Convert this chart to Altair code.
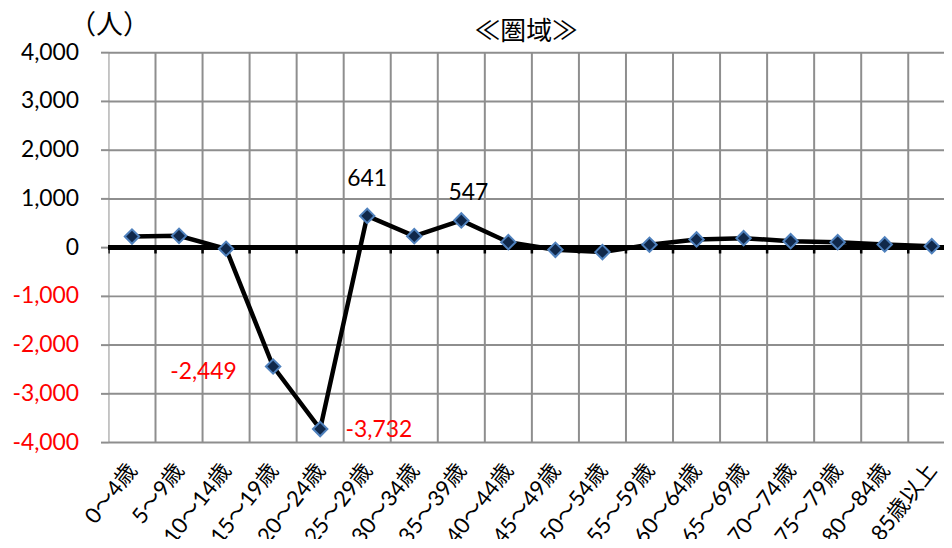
import altair as alt
import pandas as pd

categories = ["0～4歳", "5～9歳", "10～14歳", "15～19歳", "20～24歳", "25～29歳",
              "30～34歳", "35～39歳", "40～44歳", "45～49歳", "50～54歳", "55～59歳",
              "60～64歳", "65～69歳", "70～74歳", "75～79歳", "80～84歳", "85歳以上"]
values = [218, 232, -33, -2449, -3732, 641, 225, 547, 102, -54, -102, 49,
          157, 184, 122, 102, 55, 20]
y_ticks = [-4000, -3000, -2000, -1000, 0, 1000, 2000, 3000, 4000]
unit_label = "（人）"
chart_title = "≪圏域≫"

df = pd.DataFrame({
    "idx": list(range(len(categories))),
    "category": categories,
    "value": values,
    "label": [f"{v:,}" for v in values],
})
bounds = pd.DataFrame({"b": [i - 0.5 for i in range(len(categories) + 1)]})

FONT = "Lato, 'Noto Sans CJK JP', sans-serif"
CJK = "'Noto Sans CJK JP', sans-serif"
GRID = "#8e8e8e"

xscale = alt.Scale(domain=[-0.5, 17.26], nice=False, zero=False)
yscale = alt.Scale(domain=[-4000, 4000], nice=False, zero=False)

cat_js = "[" + ",".join("'" + c + "'" for c in categories) + "]"

xaxis = alt.Axis(
    values=list(range(len(categories))),
    labelExpr=cat_js + "[datum.value]",
    labelAngle=-52, labelAlign="right", labelBaseline="middle",
    labelPadding=24, labelFontSize=22, labelFont=FONT, labelColor="black",
    labelOverlap=False, labelBound=False, labelFlush=False,
    ticks=False, domain=False, grid=False, title=None,
)
yaxis = alt.Axis(
    values=y_ticks,
    labelExpr="replace(format(datum.value, ','), '\u2212', '-')",
    labelColor={"expr": "datum.value < 0 ? 'red' : 'black'"},
    labelFontSize=23, labelFont=FONT, labelPadding=22,
    grid=True, gridColor=GRID, gridWidth=2,
    domain=False, tickColor=GRID, tickSize=8, tickWidth=2,
    title=None,
)

X_IDX = alt.X("idx:Q", scale=xscale, axis=xaxis, title=None)
X_B = alt.X("b:Q", scale=xscale, axis=xaxis, title=None)
Y_VAL = alt.Y("value:Q", scale=yscale, axis=yaxis, title=None)
Y_ZERO = alt.Y(datum=0, scale=yscale, axis=yaxis, title=None)

vgrid = alt.Chart(bounds).mark_rule(color=GRID, strokeWidth=2, clip=True).encode(
    x=X_B, y=alt.Y(datum=-4000, scale=yscale, axis=yaxis, title=None),
    y2=alt.Y2(datum=4000),
)
zero = alt.Chart(df).mark_rule(color="black", strokeWidth=4).encode(
    y=Y_ZERO,
)
zticks = alt.Chart(bounds).mark_rule(color="black", strokeWidth=2.5, clip=True).encode(
    x=X_B, y=Y_ZERO, y2=alt.Y2(datum=-130),
)
line = alt.Chart(df).mark_line(color="black", strokeWidth=4.5).encode(
    x=X_IDX, y=Y_VAL,
)
pts = alt.Chart(df).mark_point(
    shape="diamond", filled=True, fill="#10284a", stroke="#4f81bd",
    strokeWidth=2, size=210, opacity=1,
).encode(x=X_IDX, y=Y_VAL)


def label(cat, dx, dy, color):
    return alt.Chart(df).transform_filter(
        alt.datum.category == cat
    ).mark_text(
        dx=dx, dy=dy, fontSize=23, font=FONT, color=color, baseline="middle", align="center"
    ).encode(x=X_IDX, y=Y_VAL, text="label:N")


labels = [
    label("25～29歳", 0, -37, "black"),
    label("35～39歳", 7, -28, "black"),
    label("15～19歳", -70, 6, "red"),
    label("20～24歳", 59, 1, "red"),
]

unit = alt.Chart(df).transform_filter(alt.datum.idx == 0).mark_text(
    fontSize=27, font=CJK, color="black", baseline="middle", align="center"
).encode(x=alt.value(1), y=alt.value(-26), text=alt.value(unit_label))

chart = alt.layer(vgrid, zero, zticks, line, pts, *labels, unit).properties(
    width=840, height=392,
    title=alt.TitleParams(chart_title, fontSize=26, font=CJK, fontWeight="normal",
                          offset=0, dy=33, anchor="middle", color="black"),
    autosize=alt.AutoSizeParams(type="none"),
    padding={"left": 101, "top": 43, "right": 0, "bottom": 96},
).configure_view(stroke=None)

chart.save("out.html", embed_options={"renderer": "svg", "actions": False})
